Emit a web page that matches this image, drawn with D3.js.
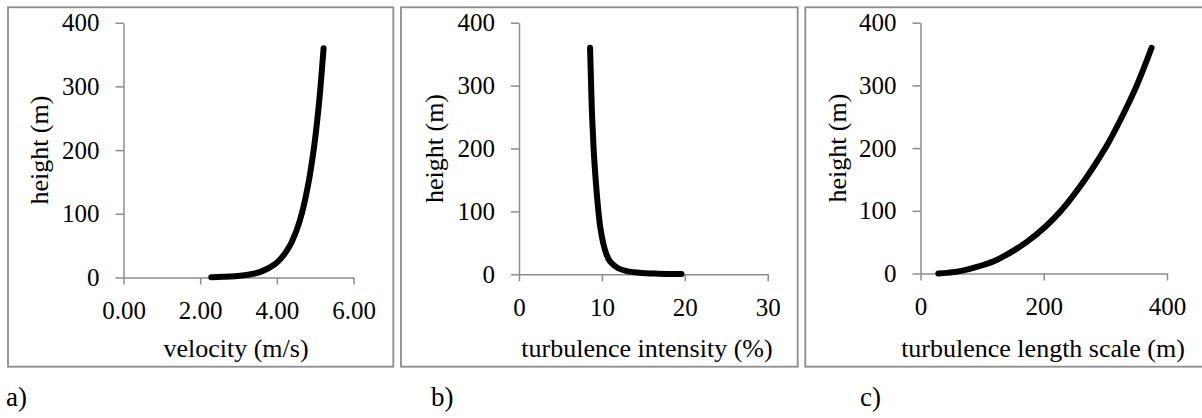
<!DOCTYPE html>
<html>
<head>
<meta charset="utf-8">
<script src="https://cdn.jsdelivr.net/npm/d3@7"></script>
<style>
  body { margin: 0; background: #fff; }
  text { font-family: "Liberation Serif", "Times New Roman", serif; fill: #000; }
</style>
</head>
<body>
<svg width="1202" height="418"></svg>
<script>
// Heights (m) and the profile values
var heightsVel = [0.5, 1, 2, 5, 10, 20, 30, 50, 75, 100, 150, 200, 250, 300, 360];
var velocity = [2.29, 2.60, 2.91, 3.32, 3.62, 3.93, 4.11, 4.34, 4.52, 4.65, 4.83, 4.96, 5.06, 5.14, 5.22];

var heightsTi = [0.5, 1, 2, 5, 10, 20, 30, 50, 75, 100, 150, 200, 250, 300, 360];
var intensity = [19.6, 16.8, 14.9, 13.0, 11.9, 11.0, 10.6, 10.15, 9.8, 9.58, 9.25, 9.0, 8.82, 8.7, 8.57];

var heightsLs = [0, 1, 2, 5, 10, 20, 30, 50, 75, 100, 150, 200, 250, 300, 360];
var lengthScale = [29, 43, 52, 70, 90, 120, 140, 172, 203, 228, 267, 300, 327, 351, 375];

// Tick values and labels
var heightTicks = [0, 100, 200, 300, 400];
var velocityTicks = [0, 2, 4, 6];
var intensityTicks = [0, 10, 20, 30];
var lengthTicks = [0, 200, 400];

var xTitles = ["velocity (m/s)", "turbulence intensity (%)", "turbulence length scale (m)"];
var yTitle = "height (m)";
var panelLetters = ["a)", "b)", "c)"];

// Layout of each panel (pixels)
var panels = [
  { xs: heightsVel, vals: velocity, ticks: velocityTicks, fmt: d3.format(".2f"), max: 6,
    box: [8, 7.3, 385.3, 359.4], left: 123.5, right: 353.5, bottom: 277.5,
    yLabX: 48, titleX: 236, letterX: 6 },
  { xs: heightsTi, vals: intensity, ticks: intensityTicks, fmt: d3.format("d"), max: 30,
    box: [401, 7.3, 396.7, 359.4], left: 519, right: 767.7, bottom: 274.3,
    yLabX: 443, titleX: 647, letterX: 431 },
  { xs: heightsLs, vals: lengthScale, ticks: lengthTicks, fmt: d3.format("d"), max: 400,
    box: [805.3, 7.3, 400, 359.4], left: 920.5, right: 1167, bottom: 273.5,
    yLabX: 846, titleX: 1043, letterX: 860 }
];

var svg = d3.select("svg");
var gray = "#8c8c8c";
var plotTop = 22.7;

panels.forEach(function(p, i) {
  // Panel frame
  svg.append("rect")
    .attr("x", p.box[0]).attr("y", p.box[1])
    .attr("width", p.box[2]).attr("height", p.box[3])
    .attr("fill", "none").attr("stroke", gray).attr("stroke-width", 1.8);

  var x = d3.scaleLinear().domain([0, p.max]).range([p.left, p.right]);
  var y = d3.scaleLinear().domain([0, 400]).range([p.bottom, plotTop]);

  // Axes
  var gy = svg.append("g")
    .attr("transform", "translate(" + p.left + ",0)")
    .call(d3.axisLeft(y).tickValues(heightTicks).tickSize(8).tickSizeOuter(0).tickPadding(16));
  var gx = svg.append("g")
    .attr("transform", "translate(0," + p.bottom + ")")
    .call(d3.axisBottom(x).tickValues(p.ticks).tickFormat(p.fmt).tickSize(7).tickSizeOuter(0).tickPadding(17));

  [gx, gy].forEach(function(g) {
    g.selectAll("path, line").attr("stroke", gray).attr("stroke-width", 1.5);
    g.selectAll("text").attr("font-size", 25).attr("fill", "#000");
  });

  // Profile curve
  var line = d3.line()
    .x(function(d) { return x(d[0]); })
    .y(function(d) { return y(d[1]); })
    .curve(d3.curveCatmullRom);
  var pts = p.vals.map(function(v, j) { return [v, p.xs[j]]; });
  svg.append("path")
    .attr("d", line(pts))
    .attr("fill", "none")
    .attr("stroke", "#000")
    .attr("stroke-width", 6)
    .attr("stroke-linecap", "round")
    .attr("stroke-linejoin", "round");

  // Titles
  svg.append("text")
    .attr("x", p.titleX).attr("y", 357)
    .attr("text-anchor", "middle")
    .attr("font-size", 26)
    .text(xTitles[i]);
  svg.append("text")
    .attr("transform", "translate(" + p.yLabX + "," + ((p.bottom + plotTop) / 2) + ") rotate(-90)")
    .attr("text-anchor", "middle")
    .attr("font-size", 26)
    .text(yTitle);

  // Panel letter
  svg.append("text")
    .attr("x", p.letterX).attr("y", 406)
    .attr("font-size", 27)
    .text(panelLetters[i]);
});
</script>
</body>
</html>
